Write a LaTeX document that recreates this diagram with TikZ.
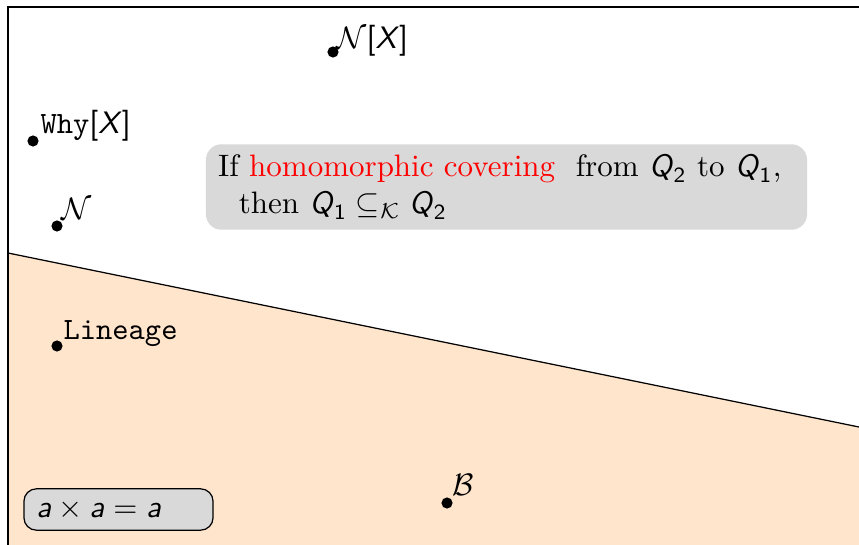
\documentclass[tikz,border=0pt]{standalone}
\usepackage{amsmath}
\newcommand\mv[1]{\textsf{\textit{#1}}}
\newcommand\mn[1]{\textsf{#1}}
\tikzset{
  dot/.style={circle, fill=black, inner sep=0pt, minimum size=3.6pt},
  lbl/.style={anchor=base west, inner sep=0pt},
  graybox/.style={fill=black!15, rounded corners=5pt, inner xsep=3.9pt, align=left}
}
\begin{document}
\begin{tikzpicture}[x=0.3226pt, y=-0.3226pt]
\useasboundingbox (0,0) rectangle (859,545);
\clip (0,0) rectangle (859,545);
% lower region
\fill[orange!20] (8,253) -- (859,427) -- (859,560) -- (8,560) -- cycle;
\draw[thin] (8,253) -- (859,427);
% frame
\draw[thin] (8,560) |- (880,7);
% gray statement box
\node[graybox, minimum width=193.9pt, minimum height=26.1pt, text width=186pt] (stmt) at (506.5,187)
  {If \textcolor{red}{homomorphic covering}\ \ from $\mv{Q}_{\mn{2}}$ to $\mv{Q}_{\mn{1}}$,\\
   \ \ then $\mv{Q}_{\mn{1}} \subseteq_{\mathcal{K}} \mv{Q}_{\mn{2}}$};
% bottom-left box
\node[graybox, draw=black, rounded corners=4pt, minimum width=61pt, minimum height=13.2pt, text width=53pt, inner xsep=3.5pt] (idem) at (118.5,509.5)
  {$\mv{a} \times \mv{a} = \mv{a}$};
% points
\node[dot] (dNX) at (333,52) {};
\node[lbl] (lNX) at (336,49) {$\mathcal{N}\mn{[}\mv{X}\mn{]}$};
\node[dot] (dWhy) at (33,141) {};
\node[lbl] (lWhy) at (40,134) {\texttt{Why}$\mn{[}\mv{X}\mn{]}$};
\node[dot] (dN) at (57,226) {};
\node[lbl] (lN) at (61,219) {$\mathcal{N}$};
\node[dot] (dLin) at (57,346) {};
\node[lbl] (lLin) at (63,339) {\texttt{Lineage}};
\node[dot] (dB) at (447,503) {};
\node[lbl] (lB) at (452,495) {$\mathcal{B}$};
\end{tikzpicture}
\end{document}
